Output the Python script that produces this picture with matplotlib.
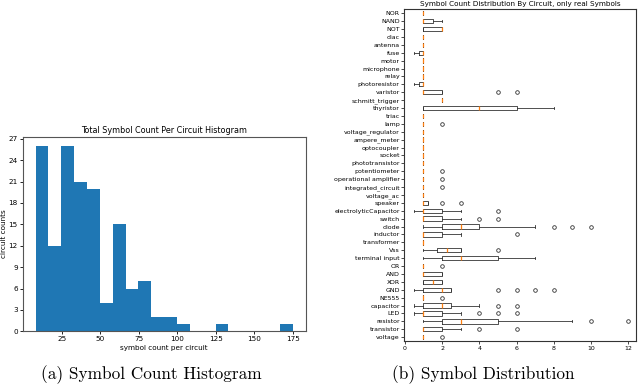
import numpy as np
import matplotlib
matplotlib.use("Agg")
import matplotlib.pyplot as plt

# Histogram data (20 bins from 8 to 175)
bin_edges = np.linspace(8, 175, 21)
bin_counts = [26, 12, 26, 21, 20, 4, 15, 6, 7, 2, 2, 1, 0, 0, 1, 0, 0, 0, 0, 1]

# Boxplot data, listed top to bottom as in the chart
symbols = ["NOR", "NAND", "NOT", "diac", "antenna", "fuse", "motor", "microphone",
           "relay", "photoresistor", "varistor", "schmitt_trigger", "thyristor",
           "triac", "lamp", "voltage_regulator", "ampere_meter", "optocoupler",
           "socket", "phototransistor", "potentiometer", "operational amplifier",
           "integrated_circuit", "voltage_ac", "speaker", "electrolyticCapacitor",
           "switch", "diode", "inductor", "transformer", "Vss", "terminal input",
           "OR", "AND", "XOR", "GND", "NE555", "capacitor", "LED", "resistor",
           "transistor", "voltage"]
whis_lo = [1, 1, 1, 1, 1, 0.5, 1, 1, 1, 0.5, 1, 2, 1, 1, 1, 1, 1, 1, 1, 1, 1, 1,
           1, 1, 1, 0.5, 1, 1, 1, 1, 1, 1, 1, 1, 1, 0.5, 1, 0.5, 0.5, 1, 1, 1]
q1 = [1, 1, 1, 1, 1, 0.75, 1, 1, 1, 0.75, 1, 2, 1, 1, 1, 1, 1, 1, 1, 1, 1, 1,
      1, 1, 1, 1, 1, 2, 1, 1, 1.75, 2, 1, 1, 1, 1, 1, 1, 1, 2, 1, 1]
medians = [1, 1, 2, 1, 1, 1, 1, 1, 1, 1, 1, 2, 4, 1, 1, 1, 1, 1, 1, 1, 1, 1,
           1, 1, 1, 1, 1, 3, 1, 1, 2.25, 3, 1, 1, 1.5, 2, 1, 2, 1, 3, 1, 1]
q3 = [1, 1.5, 2, 1, 1, 1, 1, 1, 1, 1, 2, 2, 6, 1, 1, 1, 1, 1, 1, 1, 1, 1,
      1, 1, 1.25, 2, 2, 4, 2, 1, 3, 5, 1, 2, 2, 2.5, 1, 2.5, 2, 5, 2, 1]
whis_hi = [1, 2, 2, 1, 1, 1, 1, 1, 1, 1, 2, 2, 8, 1, 1, 1, 1, 1, 1, 1, 1, 1,
           1, 1, 1.25, 3, 3, 7, 3, 1, 3, 7, 1, 2, 2, 2.5, 1, 4, 3, 9, 3, 1]
outliers = [[], [], [], [], [], [], [], [], [], [], [5, 6], [], [], [], [2],
            [], [], [], [], [], [2], [2], [2], [], [2, 3], [5], [4, 5],
            [8, 9, 10], [6], [], [5], [], [2], [], [], [5, 6, 7, 8], [2],
            [5, 6], [4, 5, 6], [10, 12], [4, 6], [2]]

fig = plt.figure(figsize=(6.4, 3.85), dpi=100)

# (a) histogram
ax1 = fig.add_axes([0.0355, 0.1395, 0.442, 0.5055])
centers = (bin_edges[:-1] + bin_edges[1:]) / 2
ax1.hist(centers, bins=bin_edges, weights=bin_counts, color="#1f77b4")
ax1.set_yticks(np.arange(0, 28, 3))
ax1.set_xticks([25, 50, 75, 100, 125, 150, 175])
ax1.tick_params(labelsize=5.2, length=2, width=0.6, pad=1.5)
ax1.set_title("Total Symbol Count Per Circuit Histogram", fontsize=5.8, pad=3)
ax1.set_xlabel("symbol count per circuit", fontsize=5.2, labelpad=2)
ax1.set_ylabel("circuit counts", fontsize=5.2, labelpad=1)
for s in ax1.spines.values():
    s.set_linewidth(0.8)
    s.set_color("#555555")

# (b) boxplot
ax2 = fig.add_axes([0.631, 0.114, 0.3625, 0.862])
stats = []
for i in range(len(symbols)):
    stats.append({"label": symbols[i], "whislo": whis_lo[i], "q1": q1[i],
                  "med": medians[i], "q3": q3[i], "whishi": whis_hi[i],
                  "fliers": outliers[i]})
stats = stats[::-1]
ax2.bxp(stats, orientation="horizontal", widths=0.55,
        boxprops=dict(linewidth=0.6, color="#333333"),
        whiskerprops=dict(linewidth=0.6, color="#333333"),
        capprops=dict(linewidth=0.6, color="#333333"),
        medianprops=dict(linewidth=0.9, color="#ff7f0e"),
        flierprops=dict(marker="o", markersize=2.6, markeredgewidth=0.6,
                        markerfacecolor="none", markeredgecolor="#333333"))
ax2.set_xlim(-0.05, 12.4)
ax2.set_xticks(range(0, 13, 2))
ax2.tick_params(axis="y", labelsize=4.5, length=2, width=0.5, pad=1)
ax2.tick_params(axis="x", labelsize=4.5, length=2, width=0.5, pad=1.5)
ax2.set_title("Symbol Count Distribution By Circuit, only real Symbols",
              fontsize=5.2, pad=2)
for s in ax2.spines.values():
    s.set_linewidth(0.8)
    s.set_color("#333333")

# captions
fig.text(0.236, 0.015, "(a) Symbol Count Histogram", family="cmr10",
         fontsize=12.4, ha="center", va="baseline")
fig.text(0.755, 0.015, "(b) Symbol Distribution", family="cmr10",
         fontsize=12.4, ha="center", va="baseline")

fig.savefig("out.png", dpi=100)
